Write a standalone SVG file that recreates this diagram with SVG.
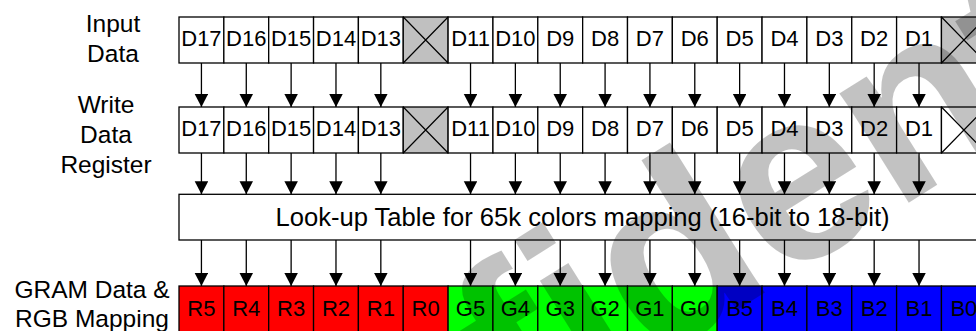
<svg xmlns="http://www.w3.org/2000/svg" width="976" height="331" viewBox="0 0 976 331">
<defs>
<style>
.lbl{font-family:"Liberation Sans",Arial,sans-serif;font-size:24.5px;fill:#000;text-anchor:middle}
.ct{font-family:"Liberation Sans",Arial,sans-serif;font-size:22px;fill:#000;text-anchor:middle}
.lut{font-family:"Liberation Sans",Arial,sans-serif;font-size:25.6px;fill:#000;text-anchor:middle}
.cell{fill:#fff;stroke:#000;stroke-width:1.3}
.gx{fill:#c0c0c0;stroke:#000;stroke-width:1.3}
.r{fill:#ff0000;stroke:#000;stroke-width:1.3}
.g{fill:#00ff00;stroke:#000;stroke-width:1.3}
.b{fill:#0000ff;stroke:#000;stroke-width:1.3}
.x{stroke:#000;stroke-width:1.2;fill:none}
#connectors line{stroke:#000;stroke-width:1.3;marker-end:url(#ah)}
.wm{font-family:"Liberation Sans",Arial,sans-serif;font-weight:bold;font-size:245px;fill:#000;fill-opacity:0.24}
</style>
<marker id="ah" markerUnits="userSpaceOnUse" markerWidth="14" markerHeight="14" refX="13" refY="6.75" orient="auto">
<path d="M0,0 L13,6.75 L0,13.5 z" fill="#000"/>
</marker>
</defs>
<rect width="976" height="331" fill="#fff"/>

<g id="labels">
<text class="lbl" x="113" y="31.5">Input</text>
<text class="lbl" x="113" y="62">Data</text>
<text class="lbl" x="106" y="112.5">Write</text>
<text class="lbl" x="106" y="142.5">Data</text>
<text class="lbl" x="106" y="172.5">Register</text>
<text class="lbl" x="92" y="297.5">GRAM Data &amp;</text>
<text class="lbl" x="92" y="327">RGB Mapping</text>
</g>

<g id="input-data">
<rect class="cell" x="179" y="17" width="44.85" height="46"/><text class="ct" x="201.43" y="45.5">D17</text>
<rect class="cell" x="223.85" y="17" width="44.85" height="46"/><text class="ct" x="246.28" y="45.5">D16</text>
<rect class="cell" x="268.7" y="17" width="44.85" height="46"/><text class="ct" x="291.13" y="45.5">D15</text>
<rect class="cell" x="313.55" y="17" width="44.85" height="46"/><text class="ct" x="335.98" y="45.5">D14</text>
<rect class="cell" x="358.4" y="17" width="44.85" height="46"/><text class="ct" x="380.83" y="45.5">D13</text>
<rect class="gx" x="403.25" y="17" width="44.85" height="46"/><path class="x" d="M403.25,17 L448.1,63 M448.1,17 L403.25,63"/>
<rect class="cell" x="448.1" y="17" width="44.85" height="46"/><text class="ct" x="470.53" y="45.5">D11</text>
<rect class="cell" x="492.95" y="17" width="44.85" height="46"/><text class="ct" x="515.38" y="45.5">D10</text>
<rect class="cell" x="537.8" y="17" width="44.85" height="46"/><text class="ct" x="560.23" y="45.5">D9</text>
<rect class="cell" x="582.65" y="17" width="44.85" height="46"/><text class="ct" x="605.08" y="45.5">D8</text>
<rect class="cell" x="627.5" y="17" width="44.85" height="46"/><text class="ct" x="649.93" y="45.5">D7</text>
<rect class="cell" x="672.35" y="17" width="44.85" height="46"/><text class="ct" x="694.78" y="45.5">D6</text>
<rect class="cell" x="717.2" y="17" width="44.85" height="46"/><text class="ct" x="739.63" y="45.5">D5</text>
<rect class="cell" x="762.05" y="17" width="44.85" height="46"/><text class="ct" x="784.48" y="45.5">D4</text>
<rect class="cell" x="806.9" y="17" width="44.85" height="46"/><text class="ct" x="829.33" y="45.5">D3</text>
<rect class="cell" x="851.75" y="17" width="44.85" height="46"/><text class="ct" x="874.18" y="45.5">D2</text>
<rect class="cell" x="896.6" y="17" width="44.85" height="46"/><text class="ct" x="919.03" y="45.5">D1</text>
<rect class="gx" x="941.45" y="17" width="44.85" height="46"/><path class="x" d="M941.45,17 L986.3,63 M986.3,17 L941.45,63"/>
</g>

<g id="write-data-register">
<rect class="cell" x="179" y="107" width="44.85" height="46"/><text class="ct" x="201.43" y="135.5">D17</text>
<rect class="cell" x="223.85" y="107" width="44.85" height="46"/><text class="ct" x="246.28" y="135.5">D16</text>
<rect class="cell" x="268.7" y="107" width="44.85" height="46"/><text class="ct" x="291.13" y="135.5">D15</text>
<rect class="cell" x="313.55" y="107" width="44.85" height="46"/><text class="ct" x="335.98" y="135.5">D14</text>
<rect class="cell" x="358.4" y="107" width="44.85" height="46"/><text class="ct" x="380.83" y="135.5">D13</text>
<rect class="gx" x="403.25" y="107" width="44.85" height="46"/><path class="x" d="M403.25,107 L448.1,153 M448.1,107 L403.25,153"/>
<rect class="cell" x="448.1" y="107" width="44.85" height="46"/><text class="ct" x="470.53" y="135.5">D11</text>
<rect class="cell" x="492.95" y="107" width="44.85" height="46"/><text class="ct" x="515.38" y="135.5">D10</text>
<rect class="cell" x="537.8" y="107" width="44.85" height="46"/><text class="ct" x="560.23" y="135.5">D9</text>
<rect class="cell" x="582.65" y="107" width="44.85" height="46"/><text class="ct" x="605.08" y="136">D8</text>
<rect class="cell" x="627.5" y="107" width="44.85" height="46"/><text class="ct" x="649.93" y="135.5">D7</text>
<rect class="cell" x="672.35" y="107" width="44.85" height="46"/><text class="ct" x="694.78" y="135.5">D6</text>
<rect class="cell" x="717.2" y="107" width="44.85" height="46"/><text class="ct" x="739.63" y="135.5">D5</text>
<rect class="cell" x="762.05" y="107" width="44.85" height="46"/><text class="ct" x="784.48" y="135.5">D4</text>
<rect class="cell" x="806.9" y="107" width="44.85" height="46"/><text class="ct" x="829.33" y="135.5">D3</text>
<rect class="cell" x="851.75" y="107" width="44.85" height="46"/><text class="ct" x="874.18" y="135.5">D2</text>
<rect class="cell" x="896.6" y="107" width="44.85" height="46"/><text class="ct" x="919.03" y="135.5">D1</text>
<rect class="cell" x="941.45" y="107" width="44.85" height="46"/><path class="x" d="M941.45,107 L986.3,153 M986.3,107 L941.45,153"/>
</g>

<g id="lookup-table">
<rect class="cell" x="179" y="194.3" width="810" height="45.7"/>
<text class="lut" x="582.5" y="225.5">Look-up Table for 65k colors mapping (16-bit to 18-bit)</text>
</g>

<g id="gram-data">
<rect class="r" x="179" y="286" width="44.85" height="46"/><text class="ct" x="201.43" y="315.5">R5</text>
<rect class="r" x="223.85" y="286" width="44.85" height="46"/><text class="ct" x="246.28" y="315.5">R4</text>
<rect class="r" x="268.7" y="286" width="44.85" height="46"/><text class="ct" x="291.13" y="315.5">R3</text>
<rect class="r" x="313.55" y="286" width="44.85" height="46"/><text class="ct" x="335.98" y="315.5">R2</text>
<rect class="r" x="358.4" y="286" width="44.85" height="46"/><text class="ct" x="380.83" y="315.5">R1</text>
<rect class="r" x="403.25" y="286" width="44.85" height="46"/><text class="ct" x="425.68" y="315.5">R0</text>
<rect class="g" x="448.1" y="286" width="44.85" height="46"/><text class="ct" x="470.53" y="315.5">G5</text>
<rect class="g" x="492.95" y="286" width="44.85" height="46"/><text class="ct" x="515.38" y="315.5">G4</text>
<rect class="g" x="537.8" y="286" width="44.85" height="46"/><text class="ct" x="560.23" y="315.5">G3</text>
<rect class="g" x="582.65" y="286" width="44.85" height="46"/><text class="ct" x="605.08" y="315.5">G2</text>
<rect class="g" x="627.5" y="286" width="44.85" height="46"/><text class="ct" x="649.93" y="315.5">G1</text>
<rect class="g" x="672.35" y="286" width="44.85" height="46"/><text class="ct" x="694.78" y="315.5">G0</text>
<rect class="b" x="717.2" y="286" width="44.85" height="46"/><text class="ct" x="739.63" y="315.5">B5</text>
<rect class="b" x="762.05" y="286" width="44.85" height="46"/><text class="ct" x="784.48" y="315.5">B4</text>
<rect class="b" x="806.9" y="286" width="44.85" height="46"/><text class="ct" x="829.33" y="315.5">B3</text>
<rect class="b" x="851.75" y="286" width="44.85" height="46"/><text class="ct" x="874.18" y="315.5">B2</text>
<rect class="b" x="896.6" y="286" width="44.85" height="46"/><text class="ct" x="919.03" y="315.5">B1</text>
<rect class="b" x="941.45" y="286" width="44.85" height="46"/><text class="ct" x="963.88" y="315.5">B0</text>
</g>

<g id="connectors">
<line x1="201.43" y1="63" x2="201.43" y2="107"/><line x1="246.28" y1="63" x2="246.28" y2="107"/><line x1="291.13" y1="63" x2="291.13" y2="107"/><line x1="335.98" y1="63" x2="335.98" y2="107"/><line x1="380.83" y1="63" x2="380.83" y2="107"/><line x1="470.53" y1="63" x2="470.53" y2="107"/><line x1="515.38" y1="63" x2="515.38" y2="107"/><line x1="560.23" y1="63" x2="560.23" y2="107"/><line x1="605.08" y1="63" x2="605.08" y2="107"/><line x1="649.93" y1="63" x2="649.93" y2="107"/><line x1="694.78" y1="63" x2="694.78" y2="107"/><line x1="739.63" y1="63" x2="739.63" y2="107"/><line x1="784.48" y1="63" x2="784.48" y2="107"/><line x1="829.33" y1="63" x2="829.33" y2="107"/><line x1="874.18" y1="63" x2="874.18" y2="107"/><line x1="919.03" y1="63" x2="919.03" y2="107"/>
<line x1="201.43" y1="153" x2="201.43" y2="194.3"/><line x1="246.28" y1="153" x2="246.28" y2="194.3"/><line x1="291.13" y1="153" x2="291.13" y2="194.3"/><line x1="335.98" y1="153" x2="335.98" y2="194.3"/><line x1="380.83" y1="153" x2="380.83" y2="194.3"/><line x1="470.53" y1="153" x2="470.53" y2="194.3"/><line x1="515.38" y1="153" x2="515.38" y2="194.3"/><line x1="560.23" y1="153" x2="560.23" y2="194.3"/><line x1="605.08" y1="153" x2="605.08" y2="194.3"/><line x1="649.93" y1="153" x2="649.93" y2="194.3"/><line x1="694.78" y1="153" x2="694.78" y2="194.3"/><line x1="739.63" y1="153" x2="739.63" y2="194.3"/><line x1="784.48" y1="153" x2="784.48" y2="194.3"/><line x1="829.33" y1="153" x2="829.33" y2="194.3"/><line x1="874.18" y1="153" x2="874.18" y2="194.3"/><line x1="919.03" y1="153" x2="919.03" y2="194.3"/>
<line x1="201.43" y1="240" x2="201.43" y2="286"/><line x1="246.28" y1="240" x2="246.28" y2="286"/><line x1="291.13" y1="240" x2="291.13" y2="286"/><line x1="335.98" y1="240" x2="335.98" y2="286"/><line x1="380.83" y1="240" x2="380.83" y2="286"/><line x1="470.53" y1="240" x2="470.53" y2="286"/><line x1="515.38" y1="240" x2="515.38" y2="286"/><line x1="560.23" y1="240" x2="560.23" y2="286"/><line x1="605.08" y1="240" x2="605.08" y2="286"/><line x1="649.93" y1="240" x2="649.93" y2="286"/><line x1="694.78" y1="240" x2="694.78" y2="286"/><line x1="739.63" y1="240" x2="739.63" y2="286"/><line x1="784.48" y1="240" x2="784.48" y2="286"/><line x1="829.33" y1="240" x2="829.33" y2="286"/><line x1="874.18" y1="240" x2="874.18" y2="286"/><line x1="919.03" y1="240" x2="919.03" y2="286"/>
</g>

<g id="watermark">
<text class="wm" transform="translate(121,695) rotate(-32)">Confidential</text>
</g>
</svg>
